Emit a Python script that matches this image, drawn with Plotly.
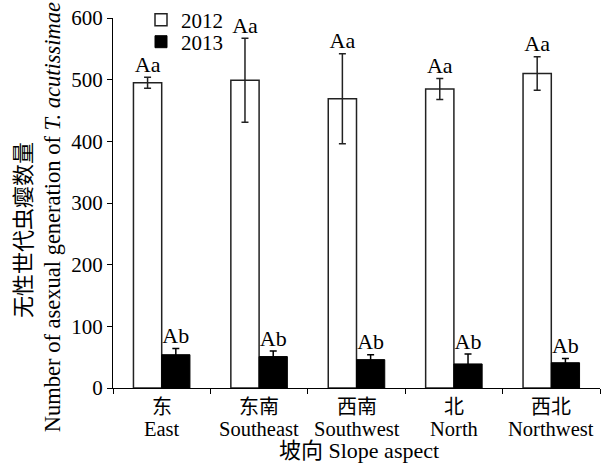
import plotly.graph_objects as go

categories_cn = ["东", "东南", "西南", "北", "西北"]
categories_en = ["East", "Southeast", "Southwest", "North", "Northwest"]
series_names = ["2012", "2013"]
values_2012 = [495, 499, 469, 485, 510]
errors_2012 = [9, 68, 73, 17, 27]
values_2013 = [54, 51, 46, 39, 41]
errors_2013 = [10, 9, 8, 16, 7]
letters_2012 = ["Aa", "Aa", "Aa", "Aa", "Aa"]
letters_2013 = ["Ab", "Ab", "Ab", "Ab", "Ab"]
y_ticks = [0, 100, 200, 300, 400, 500, 600]

FONT = "Liberation Serif, Times New Roman, Noto Sans CJK SC, serif"
BW = 0.29
idx = list(range(len(categories_en)))
x12 = [i - BW / 2 for i in idx]
x13 = [i + BW / 2 for i in idx]

fig = go.Figure()
fig.add_trace(go.Bar(
    x=x12, y=values_2012, width=BW, name=series_names[0], legend="legend",
    marker=dict(color="white", line=dict(color="#222", width=1.5)),
    error_y=dict(type="data", array=errors_2012, color="#222", thickness=1.5, width=3.5),
))
fig.add_trace(go.Bar(
    x=x13, y=values_2013, width=BW, name=series_names[1], legend="legend2",
    marker=dict(color="black", line=dict(color="black", width=1)),
    error_y=dict(type="data", array=errors_2013, color="black", thickness=1.5, width=3.5),
))
fig.add_trace(go.Scatter(
    x=x12, y=[v + e for v, e in zip(values_2012, errors_2012)],
    text=letters_2012, mode="text", textposition="top center",
    textfont=dict(family=FONT, size=22, color="black"), showlegend=False, cliponaxis=False,
))
fig.add_trace(go.Scatter(
    x=x13, y=[v + e for v, e in zip(values_2013, errors_2013)],
    text=letters_2013, mode="text", textposition="top center",
    textfont=dict(family=FONT, size=22, color="black"), showlegend=False, cliponaxis=False,
))

annotations = [
    dict(text="无性世代虫瘿数量", textangle=-90, xref="paper", yref="paper",
         x=-0.185, y=0.427, xanchor="center", yanchor="middle", showarrow=False,
         font=dict(size=22)),
    dict(text="Number of asexual generation of <i>T. acutissimae</i>", textangle=-90,
         xref="paper", yref="paper", x=-0.125, y=0.462, xanchor="center", yanchor="middle",
         showarrow=False, font=dict(size=22.5)),
    dict(text="坡向 Slope aspect", xref="paper", yref="paper", x=0.505, y=-0.168,
         xanchor="center", yanchor="middle", showarrow=False, font=dict(size=22)),
]
for i, (cn, en) in enumerate(zip(categories_cn, categories_en)):
    annotations.append(dict(text=cn, xref="x", yref="paper", x=i, y=-0.051,
                            xanchor="center", yanchor="middle", showarrow=False,
                            font=dict(size=20)))
    annotations.append(dict(text=en, xref="x", yref="paper", x=i, y=-0.112,
                            xanchor="center", yanchor="middle", showarrow=False,
                            font=dict(size=20.5)))

fig.update_layout(
    width=611, height=466,
    margin=dict(l=113, r=11, t=18, b=78, autoexpand=False),
    paper_bgcolor="white", plot_bgcolor="white",
    barmode="overlay",
    font=dict(family=FONT, size=20, color="black"),
    showlegend=True,
    legend=dict(x=0.0575, y=0.9946, xanchor="left", yanchor="middle",
                bgcolor="rgba(0,0,0,0)", font=dict(size=21), itemwidth=30),
    legend2=dict(x=0.0575, y=0.935, xanchor="left", yanchor="middle",
                 bgcolor="rgba(0,0,0,0)", font=dict(size=21), itemwidth=30),
    xaxis=dict(
        range=[-0.5, 4.5], automargin=False,
        tickmode="array", tickvals=idx, showticklabels=False,
        ticks="", showline=True, linecolor="black", linewidth=1,
        showgrid=False, zeroline=False,
        minor=dict(tickmode="array", tickvals=[i - 0.5 for i in idx] + [len(idx) - 0.5],
                   ticks="outside", ticklen=5, tickcolor="black", tickwidth=1, showgrid=False),
    ),
    yaxis=dict(
        range=[0, 600], tickmode="array", tickvals=y_ticks, automargin=False,
        ticks="outside", ticklen=5, tickcolor="black",
        showline=True, linecolor="black", linewidth=1,
        showgrid=False, zeroline=False, tickfont=dict(size=21),
    ),
    annotations=annotations,
)

fig.write_html("out.html", config={"displayModeBar": False},
               post_script="document.body.style.margin='0';")
